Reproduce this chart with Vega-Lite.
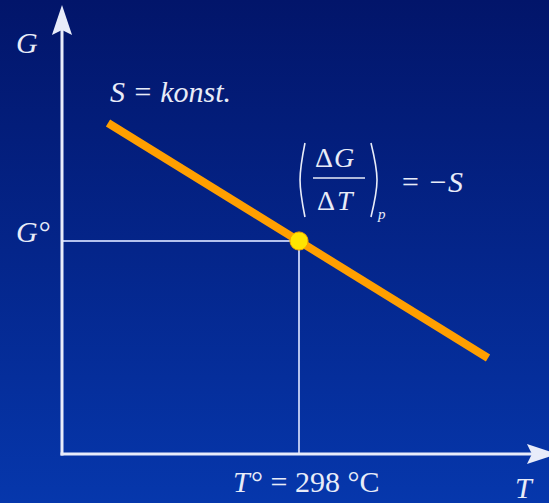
{
  "$schema": "https://vega.github.io/schema/vega-lite/v6.json",
  "width": 549,
  "height": 503,
  "autosize": "none",
  "padding": 0,
  "config": {"view": {"stroke": null}, "text": {"font": "'Liberation Serif', 'Times New Roman', serif"}},
  "encoding": {
    "x": {"field": "T", "type": "quantitative", "scale": {"domain": [-77.958, 612.346], "nice": false, "zero": false}, "axis": null},
    "y": {"field": "G", "type": "quantitative", "scale": {"domain": [-49, 454], "nice": false, "zero": false}, "axis": null}
  },
  "layer": [
    {
      "data": {"values": [{"T": -77.958, "T2": 612.346, "G": -49, "G2": 454}]},
      "mark": {"type": "rect", "fill": {"gradient": "linear", "x1": 0, "y1": 0, "x2": 0, "y2": 1, "stops": [{"offset": 0, "color": "#02156A"}, {"offset": 0.5, "color": "#04258A"}, {"offset": 1, "color": "#0637AC"}]}},
      "encoding": {"x2": {"field": "T2"}, "y2": {"field": "G2"}}
    },
    {
      "data": {"values": [{"T": 0, "T2": 298, "G": 213, "G2": 213}, {"T": 298, "T2": 298, "G": 0, "G2": 213}]},
      "mark": {"type": "rule", "color": "#B4C2EE", "strokeWidth": 2},
      "encoding": {"x2": {"field": "T2"}, "y2": {"field": "G2"}}
    },
    {
      "data": {"values": [{"T": 0, "T2": 0, "G": 0, "G2": 426}, {"T": 0, "T2": 594.7, "G": 0, "G2": 0}]},
      "mark": {"type": "rule", "color": "#E8ECFA", "strokeWidth": 3, "strokeCap": "square"},
      "encoding": {"x2": {"field": "T2"}, "y2": {"field": "G2"}}
    },
    {
      "data": {"values": [{"T": 0, "G": 434, "dir": "up"}, {"T": 603.5, "G": 0, "dir": "right"}]},
      "mark": {"type": "point", "filled": true, "size": 900, "color": "#E8ECFA", "opacity": 1},
      "encoding": {
        "shape": {"field": "dir", "type": "nominal", "legend": null, "scale": {"domain": ["up", "right"], "range": ["M0,-1L0.67,1L0,0.67L-0.67,1Z", "M1,0L-1,0.67L-0.67,0L-1,-0.67Z"]}}
      }
    },
    {
      "data": {"values": [{"T": 57.84, "T2": 535.65, "G": 331, "G2": 96}]},
      "mark": {"type": "rule", "color": "#FF9F00", "strokeWidth": 8},
      "encoding": {"x2": {"field": "T2"}, "y2": {"field": "G2"}}
    },
    {
      "data": {"values": [{"T": 298, "G": 213}]},
      "mark": {"type": "circle", "size": 330, "fill": "#FFE400", "stroke": "#F2A400", "strokeWidth": 1, "opacity": 1}
    },
    {
      "data": {"values": [
        {"paren": "L", "i": 0, "T": 305.5, "G": 311},
        {"paren": "L", "i": 1, "T": 299.3, "G": 274},
        {"paren": "L", "i": 2, "T": 305.5, "G": 237},
        {"paren": "R", "i": 0, "T": 388.5, "G": 311},
        {"paren": "R", "i": 1, "T": 396.1, "G": 274},
        {"paren": "R", "i": 2, "T": 388.5, "G": 237}
      ]},
      "mark": {"type": "line", "interpolate": "natural", "color": "#E8ECF8", "strokeWidth": 1.6},
      "encoding": {"detail": {"field": "paren"}, "order": {"field": "i", "type": "quantitative"}}
    },
    {
      "data": {"values": [{"T": 315.6, "T2": 381.0, "G": 276, "G2": 276}]},
      "mark": {"type": "rule", "color": "#E8ECF8", "strokeWidth": 1.5},
      "encoding": {"x2": {"field": "T2"}, "y2": {"field": "G2"}}
    },
    {
      "data": {"values": [
        {"T": -57.84, "G": 401, "label": "G"},
        {"T": -57.84, "G": 212, "label": "G°"},
        {"T": 60.35, "G": 352, "label": "S = konst."},
        {"T": 569.6, "G": -44, "label": "T"},
        {"T": 215.0, "G": -38, "label": "T"},
        {"T": 425.0, "G": 262, "label": "= −S"}
      ]},
      "mark": {"type": "text", "fontStyle": "italic", "fontSize": 30, "align": "left", "baseline": "alphabetic", "color": "#E8ECF8"},
      "encoding": {"text": {"field": "label"}}
    },
    {
      "data": {"values": [{"T": 237.6, "G": -38, "label": "° = 298 °C"}]},
      "mark": {"type": "text", "fontSize": 30, "align": "left", "baseline": "alphabetic", "color": "#E8ECF8"},
      "encoding": {"text": {"field": "label"}}
    },
    {
      "data": {"values": [{"T": 318.1, "G": 287, "label": "Δ"}, {"T": 320.6, "G": 244, "label": "Δ"}]},
      "mark": {"type": "text", "fontSize": 28, "align": "left", "baseline": "alphabetic", "color": "#E8ECF8"},
      "encoding": {"text": {"field": "label"}}
    },
    {
      "data": {"values": [{"T": 342.0, "G": 287, "label": "G"}, {"T": 345.8, "G": 244, "label": "T"}]},
      "mark": {"type": "text", "fontStyle": "italic", "fontSize": 28, "align": "left", "baseline": "alphabetic", "color": "#E8ECF8"},
      "encoding": {"text": {"field": "label"}}
    },
    {
      "data": {"values": [{"T": 397.3, "G": 235, "label": "p"}]},
      "mark": {"type": "text", "fontStyle": "italic", "fontSize": 15, "align": "left", "baseline": "alphabetic", "color": "#E8ECF8"},
      "encoding": {"text": {"field": "label"}}
    }
  ]
}
